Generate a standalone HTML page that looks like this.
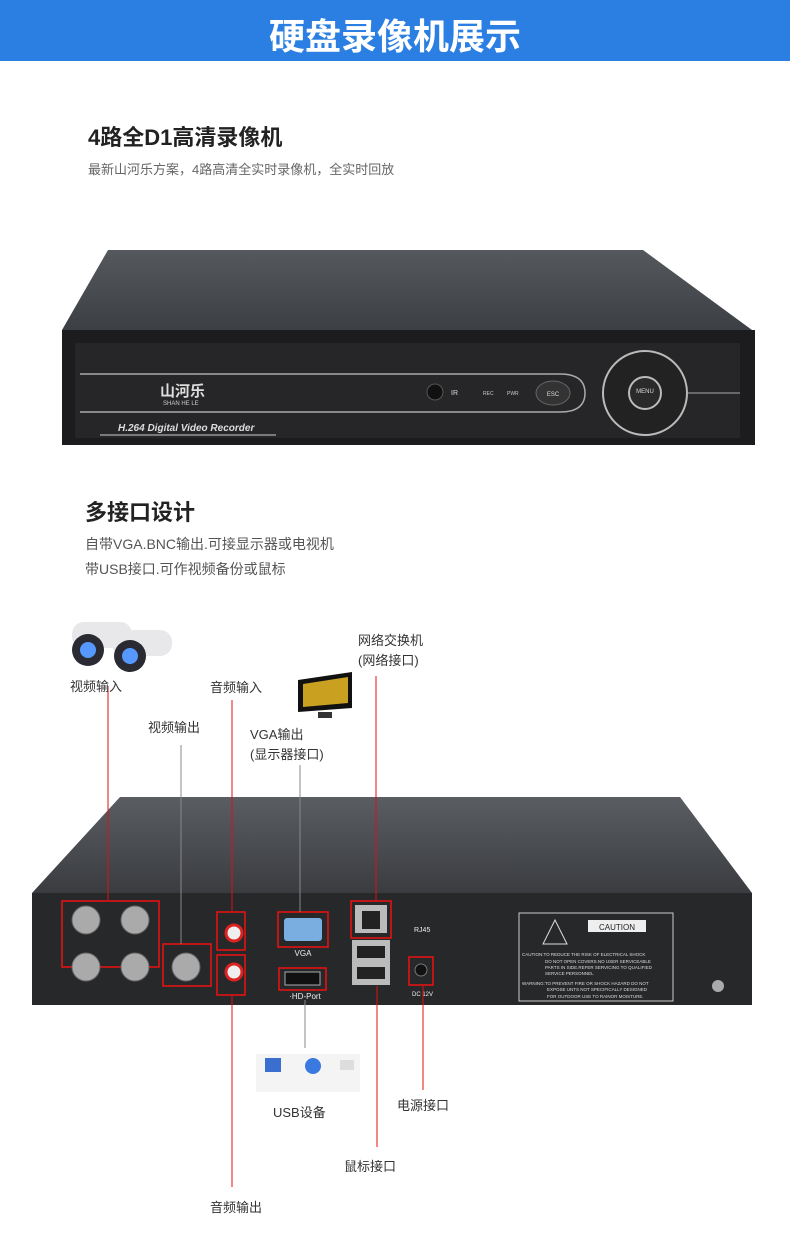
<!DOCTYPE html><html><head><meta charset="utf-8"><style>
body{margin:0;width:790px;height:1248px;background:#fff;position:relative;overflow:hidden;font-family:"Liberation Sans","Noto Sans CJK SC",sans-serif}
.t{position:absolute;white-space:nowrap;color:#333}
</style></head><body>
<div style="position:absolute;left:0;top:0;width:790px;height:61px;background:#2b7fe3"></div>
<div class="t" style="left:0;width:790px;text-align:center;top:8px;font-size:36px;color:#fff;font-weight:bold">硬盘录像机展示</div>
<div class="t" style="left:88px;top:120px;font-size:22px;color:#222;font-weight:bold">4路全D1高清录像机</div>
<div class="t" style="left:88px;top:159px;font-size:13px;color:#666">最新山河乐方案，4路高清全实时录像机，全实时回放</div>
<div class="t" style="left:85px;top:495px;font-size:22px;color:#222;font-weight:bold">多接口设计</div>
<div class="t" style="left:85px;top:534px;font-size:14px;color:#555">自带VGA.BNC输出.可接显示器或电视机</div>
<div class="t" style="left:85px;top:559px;font-size:14px;color:#555">带USB接口.可作视频备份或鼠标</div>
<svg width="790" height="1248" style="position:absolute;left:0;top:0">
<defs><linearGradient id="g1" x1="0" y1="0" x2="0" y2="1"><stop offset="0" stop-color="#55585d"/><stop offset="1" stop-color="#3c3f43"/></linearGradient>
<linearGradient id="g2" x1="0" y1="0" x2="0" y2="1"><stop offset="0" stop-color="#5a5d62"/><stop offset="1" stop-color="#3a3c40"/></linearGradient></defs>
<!-- front DVR -->
<polygon points="108,250 643,250 752,330 62,330" fill="url(#g1)"/>
<rect x="62" y="330" width="693" height="115" fill="#1c1c1e"/>
<rect x="75" y="343" width="665" height="95" fill="#262628"/>
<path d="M80,374 H560 Q585,374 585,393 Q585,412 560,412 H80" fill="none" stroke="#aaa" stroke-width="1.5"/>
<circle cx="645" cy="393" r="42" fill="#222" stroke="#bbb" stroke-width="2"/>
<circle cx="645" cy="393" r="16" fill="#2a2a2a" stroke="#bbb" stroke-width="2"/>
<line x1="687" y1="393" x2="740" y2="393" stroke="#aaa"/>
<ellipse cx="553" cy="393" rx="17" ry="12" fill="#333" stroke="#666"/>
<text x="553" y="396" font-size="6" fill="#ddd" text-anchor="middle">ESC</text>
<text x="645" y="393" font-size="6" fill="#ddd" text-anchor="middle">MENU</text>
<circle cx="435" cy="392" r="8" fill="#111" stroke="#555"/><text x="451" y="395" font-size="7" fill="#ddd">IR</text>
<text x="483" y="395" font-size="5" fill="#ccc">REC</text><text x="507" y="395" font-size="5" fill="#ccc">PWR</text>
<text x="160" y="396" font-size="15" fill="#ddd" font-weight="bold" font-family="Noto Sans CJK SC">山河乐</text>
<text x="163" y="405" font-size="6" fill="#ccc">SHAN HE LE</text>
<text x="118" y="431" font-size="10" fill="#ddd" font-weight="bold" font-style="italic">H.264 Digital Video Recorder</text>
<line x1="100" y1="435" x2="276" y2="435" stroke="#ccc"/>
<!-- rear DVR -->
<polygon points="120,797 680,797 752,893 32,893" fill="url(#g2)"/>
<rect x="32" y="893" width="720" height="112" fill="#27282a"/>
<rect x="62" y="901" width="97" height="66" fill="none" stroke="#e11" stroke-width="1.5"/>
<g fill="#aaa" stroke="#666"><circle cx="86" cy="920" r="14"/><circle cx="135" cy="920" r="14"/><circle cx="86" cy="967" r="14"/><circle cx="135" cy="967" r="14"/><circle cx="186" cy="967" r="14"/></g>
<rect x="163" y="944" width="48" height="42" fill="none" stroke="#e11" stroke-width="1.5"/>
<rect x="217" y="912" width="28" height="38" fill="none" stroke="#e11" stroke-width="1.5"/>
<rect x="217" y="955" width="28" height="40" fill="none" stroke="#e11" stroke-width="1.5"/>
<circle cx="234" cy="933" r="8" fill="#eee" stroke="#d22" stroke-width="3"/><circle cx="234" cy="972" r="8" fill="#eee" stroke="#d22" stroke-width="3"/>
<rect x="278" y="912" width="50" height="35" fill="none" stroke="#e11" stroke-width="1.5"/>
<rect x="284" y="918" width="38" height="23" fill="#7aaee0" rx="3"/>
<text x="303" y="956" font-size="8" fill="#eee" text-anchor="middle">VGA</text>
<rect x="279" y="968" width="47" height="22" fill="none" stroke="#e11" stroke-width="1.5"/>
<rect x="285" y="972" width="35" height="13" fill="#111" stroke="#aaa"/>
<text x="305" y="999" font-size="8" fill="#eee" text-anchor="middle">·HD-Port</text>
<rect x="351" y="901" width="40" height="37" fill="none" stroke="#e11" stroke-width="1.5"/>
<rect x="355" y="905" width="32" height="28" fill="#bbb"/><rect x="362" y="911" width="18" height="18" fill="#222"/>
<rect x="352" y="940" width="38" height="45" fill="#bbb"/>
<rect x="357" y="946" width="28" height="12" fill="#222"/><rect x="357" y="967" width="28" height="12" fill="#222"/>
<text x="414" y="932" font-size="7" fill="#eee">RJ45</text>
<rect x="409" y="957" width="24" height="28" fill="none" stroke="#e11" stroke-width="1.5"/>
<circle cx="421" cy="970" r="6" fill="#111" stroke="#777"/>
<text x="412" y="996" font-size="6" fill="#eee">DC 12V</text>
<rect x="519" y="913" width="154" height="88" fill="none" stroke="#ccc"/>
<rect x="588" y="920" width="58" height="12" fill="#eee"/><text x="617" y="930" font-size="8" fill="#222" text-anchor="middle">CAUTION</text>
<polygon points="555,920 567,944 543,944" fill="none" stroke="#ddd"/>
<g font-size="4.5" fill="#ddd"><text x="522" y="956">CAUTION:TO REDUCE THE RISK OF ELECTRICAL SHOCK</text><text x="545" y="963">DO NOT OPEN COVERS.NO USER SERVICEABLE</text><text x="545" y="969">PARTS IN SIDE.REFER SERVICING TO QUALIFIED</text><text x="545" y="975">SERVICE PERSONNEL</text><text x="522" y="985">WARNING:TO PREVENT FIRE OR SHOCK HAZARD DO NOT</text><text x="547" y="991">EXPOSE UNTS NOT SPECIFICALLY DESIGNED</text><text x="547" y="998">FOR OUTDOOR USE TO RAINOR MOISTURE.</text></g>
<circle cx="718" cy="986" r="6" fill="#aaa"/>
<!-- lines -->
<g stroke="#e01010" stroke-width="1">
<line x1="108" y1="686" x2="108" y2="900"/><line x1="232" y1="700" x2="232" y2="911"/><line x1="376" y1="676" x2="376" y2="900"/>
<line x1="232" y1="996" x2="232" y2="1187"/><line x1="377" y1="986" x2="377" y2="1147"/><line x1="423" y1="986" x2="423" y2="1090"/></g>
<g stroke="#888" stroke-width="1"><line x1="181" y1="745" x2="181" y2="944"/><line x1="300" y1="765" x2="300" y2="912"/><line x1="305" y1="1000" x2="305" y2="1048"/></g>
<!-- cameras -->
<g><rect x="72" y="622" width="60" height="26" rx="12" fill="#e8e8ea"/><circle cx="88" cy="650" r="16" fill="#2a2a33"/><circle cx="88" cy="650" r="8" fill="#5599ff"/>
<rect x="112" y="630" width="60" height="26" rx="12" fill="#e8e8ea"/><circle cx="130" cy="656" r="16" fill="#2a2a33"/><circle cx="130" cy="656" r="8" fill="#5599ff"/></g>
<!-- monitor -->
<polygon points="298,680 352,672 352,708 298,712" fill="#111"/><polygon points="303,684 348,677 348,703 303,707" fill="#c9a020"/>
<rect x="318" y="712" width="14" height="6" fill="#333"/>
<!-- usb devices -->
<rect x="256" y="1054" width="104" height="38" fill="#f4f4f4"/>
<rect x="265" y="1058" width="16" height="14" fill="#3a6fd0"/><circle cx="313" cy="1066" r="8" fill="#3a7ae0"/><rect x="340" y="1060" width="14" height="10" fill="#ddd"/>
</svg>
<div class="t" style="left:70px;top:676px;font-size:13px">视频输入</div>
<div class="t" style="left:210px;top:677px;font-size:13px">音频输入</div>
<div class="t" style="left:148px;top:717px;font-size:13px">视频输出</div>
<div class="t" style="left:250px;top:724px;font-size:13px">VGA输出</div>
<div class="t" style="left:250px;top:744px;font-size:13px">(显示器接口)</div>
<div class="t" style="left:358px;top:630px;font-size:13px">网络交换机</div>
<div class="t" style="left:358px;top:650px;font-size:13px">(网络接口)</div>
<div class="t" style="left:273px;top:1102px;font-size:13px">USB设备</div>
<div class="t" style="left:397px;top:1095px;font-size:13px">电源接口</div>
<div class="t" style="left:344px;top:1156px;font-size:13px">鼠标接口</div>
<div class="t" style="left:210px;top:1197px;font-size:13px">音频输出</div>
</body></html>
